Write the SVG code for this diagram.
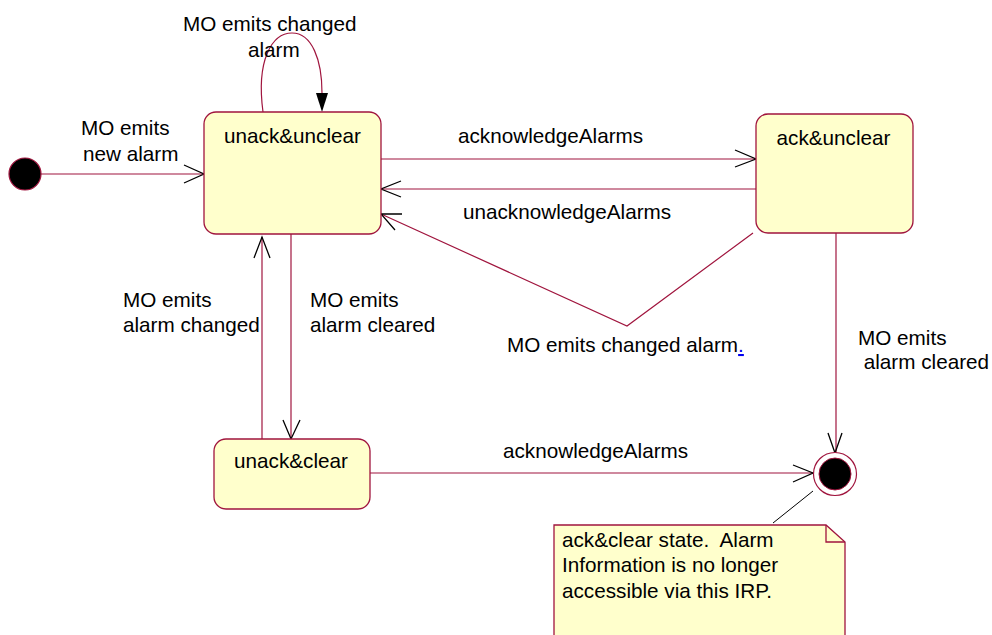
<svg xmlns="http://www.w3.org/2000/svg" width="992" height="635" viewBox="0 0 992 635">
<style>
.st{fill:#FFFFCC;stroke:#A0153E;stroke-width:1.3}
.ln{fill:none;stroke:#A0153E;stroke-width:1.2}
.ah{fill:none;stroke:#000;stroke-width:1.3}
text{font-family:"Liberation Sans",Arial,sans-serif;font-size:20.7px;fill:#000}
</style>
<rect width="992" height="635" fill="#fff"/>
<g id="connectors">
<line class="ln" x1="41" y1="174" x2="204" y2="174"/>
<polyline class="ah" points="184,165 204,174 184,183"/>
<path class="ln" d="M263,112 C256,60 272,33 292,33 C312,33 322,60 322,93"/>
<polygon points="316,93 328,93 322,112" fill="#000"/>
<line class="ln" x1="381" y1="159" x2="756" y2="159"/>
<polyline class="ah" points="735,150 756,159 735,167"/>
<line class="ln" x1="756" y1="189" x2="381" y2="189"/>
<polyline class="ah" points="401,181 381,189 401,197"/>
<polyline class="ln" points="753,233 627,326 381,214"/>
<polyline class="ah" points="402,214 381,214 395,230"/>
<line class="ln" x1="291" y1="234" x2="291" y2="439"/>
<polyline class="ah" points="283,420 291,439 300,420"/>
<line class="ln" x1="262" y1="439" x2="262" y2="237"/>
<polyline class="ah" points="254,258 262,237 270,258"/>
<line class="ln" x1="836" y1="233" x2="836" y2="453"/>
<polyline class="ah" points="828,433 835,453 842,433"/>
<line class="ln" x1="370" y1="473" x2="813" y2="473"/>
<polyline class="ah" points="793,465 813,473 793,482"/>
<line x1="773" y1="523" x2="813" y2="491" stroke="#000" stroke-width="1"/>
</g>
<g id="label-new">
<text x="81" y="135">MO emits</text>
<text x="83" y="161">new alarm</text>
</g>
<g id="label-self">
<text x="183" y="31">MO emits changed</text>
<text x="248" y="57">alarm</text>
</g>
<g id="label-ack1"><text x="458" y="143">acknowledgeAlarms</text></g>
<g id="label-unack"><text x="463" y="219">unacknowledgeAlarms</text></g>
<g id="label-changed2"><text x="507" y="352">MO emits changed alarm<tspan fill="#0000EE" text-decoration="underline">.</tspan></text></g>
<g id="label-changed3">
<text x="123" y="307">MO emits</text>
<text x="123" y="332">alarm changed</text>
</g>
<g id="label-cleared1">
<text x="310" y="307">MO emits</text>
<text x="310" y="332">alarm cleared</text>
</g>
<g id="label-cleared2">
<text x="858" y="345">MO emits</text>
<text x="858" y="369">&#160;alarm cleared</text>
</g>
<g id="label-ack2"><text x="503" y="458">acknowledgeAlarms</text></g>
<g id="initial"><circle cx="25" cy="174" r="16" fill="#000" stroke="#A0153E" stroke-width="1.2"/></g>
<g id="unack-unclear">
<rect class="st" x="204" y="112" width="177" height="122" rx="12"/>
<text x="292.5" y="143" text-anchor="middle">unack&amp;unclear</text>
</g>
<g id="ack-unclear">
<rect class="st" x="756" y="114" width="157" height="119" rx="12"/>
<text x="833.5" y="145" text-anchor="middle">ack&amp;unclear</text>
</g>
<g id="unack-clear">
<rect class="st" x="214" y="439" width="156" height="70" rx="12"/>
<text x="291" y="468" text-anchor="middle">unack&amp;clear</text>
</g>
<g id="final">
<circle cx="835" cy="474" r="21.5" fill="#fff" stroke="#A0153E" stroke-width="1.2"/>
<circle cx="835" cy="474" r="16" fill="#000" stroke="#A0153E" stroke-width="1"/>
</g>
<g id="note">
<path d="M554,640 L554,525 L826,525 L845,542 L845,640" fill="#FFFFCC" stroke="#A0153E" stroke-width="1.3"/>
<polyline points="826,525 826,542 845,542" fill="none" stroke="#A0153E" stroke-width="1.3"/>
<text x="562" y="547">ack&amp;clear state.&#160; Alarm</text>
<text x="562" y="572">Information is no longer</text>
<text x="562" y="598">accessible via this IRP.</text>
</g>
</svg>
